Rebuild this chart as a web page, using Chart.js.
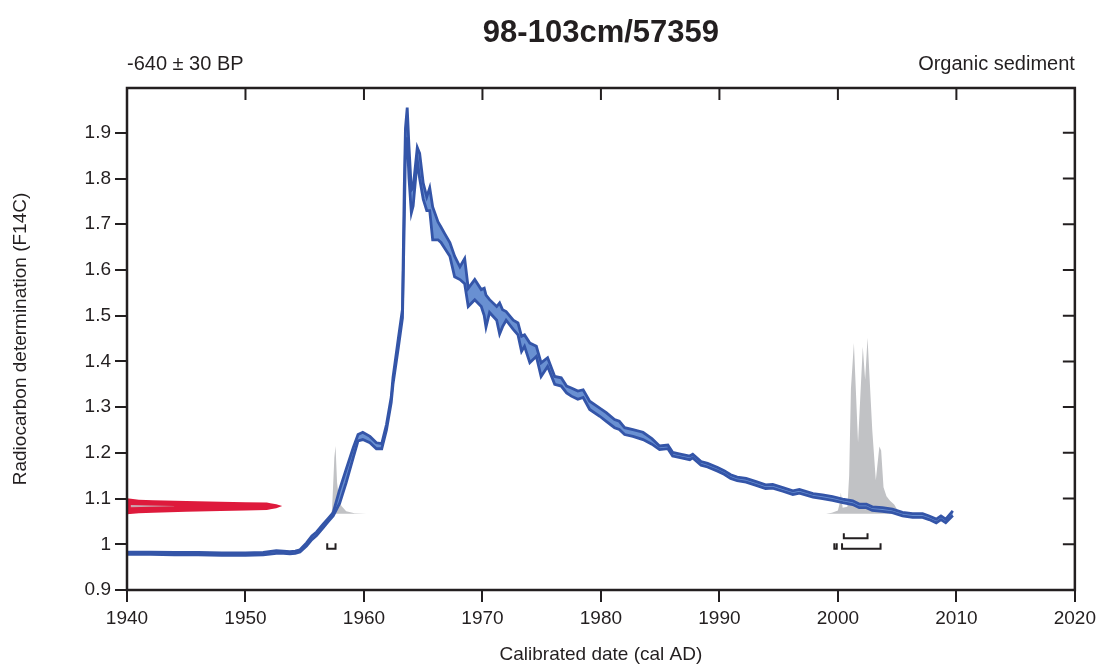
<!DOCTYPE html>
<html lang="en">
<head>
<meta charset="UTF-8">
<title>98-103cm/57359</title>
<script src="https://cdn.jsdelivr.net/npm/chart.js"></script>
<style>
  body { margin: 0; background: #fff; }
  canvas { display: block; }
</style>
</head>
<body>
<canvas id="calChart" width="1101" height="666"></canvas>
<script>
// calibration curve (IntCal bomb section), lower / upper bound in F14C
const calYears = [1940, 1942, 1944, 1946, 1948, 1950, 1951.5, 1952.6, 1953.2, 1953.75, 1954.2, 1954.6,
  1955.15, 1955.6, 1956.0, 1956.55, 1957.0, 1957.4, 1957.95, 1958.5, 1959.1, 1959.5, 1959.9, 1960.5,
  1961.05, 1961.5, 1961.9, 1962.3, 1962.45, 1962.9, 1963.25, 1963.4, 1963.5, 1963.65, 1963.8, 1964.0,
  1964.15, 1964.5, 1964.7, 1965.0, 1965.3, 1965.55, 1965.8, 1966.25, 1966.5, 1966.8, 1967.25, 1967.65,
  1968.1, 1968.5, 1968.8, 1969.35, 1969.9, 1970.15, 1970.3, 1970.6, 1971.2, 1971.45, 1971.7, 1972.0,
  1972.6, 1973.0, 1973.3, 1973.55, 1974.0, 1974.55, 1974.95, 1975.5, 1976.1, 1976.65, 1977.1, 1977.5,
  1978.05, 1978.5, 1979.05, 1979.9, 1980.45, 1981.15, 1981.55, 1982.0, 1982.7, 1983.55, 1984.3, 1984.95,
  1985.65, 1986.05, 1986.6, 1987.5, 1987.75, 1988.45, 1989.0, 1989.85, 1990.4, 1990.95, 1991.5, 1992.25,
  1993.1, 1993.9, 1994.5, 1995.35, 1996.2, 1996.75, 1997.9, 1998.7, 1999.55, 2000.4, 2001.25, 2001.8,
  2002.4, 2002.9, 2003.75, 2004.6, 2005.45, 2006.3, 2007.15, 2007.7, 2008.3, 2008.7, 2009.1, 2009.7];
const calLow = [0.978, 0.978, 0.977, 0.977, 0.976, 0.976, 0.977, 0.980, 0.980, 0.979, 0.980, 0.983,
  0.996, 1.010, 1.019, 1.036, 1.050, 1.062, 1.090, 1.135, 1.190, 1.226, 1.229, 1.222,
  1.209, 1.209, 1.250, 1.310, 1.350, 1.430, 1.495, 1.70, 1.86, 1.89, 1.80, 1.725,
  1.74, 1.84, 1.80, 1.755, 1.73, 1.73, 1.666, 1.666, 1.66, 1.648, 1.63, 1.585,
  1.579, 1.57, 1.52, 1.535, 1.52, 1.50, 1.475, 1.507, 1.49, 1.46, 1.476, 1.49,
  1.47, 1.458, 1.422, 1.433, 1.397, 1.411, 1.367, 1.389, 1.35, 1.346, 1.331, 1.324,
  1.317, 1.321, 1.295, 1.280, 1.269, 1.255, 1.251, 1.240, 1.236, 1.229, 1.219, 1.207,
  1.209, 1.193, 1.190, 1.185, 1.189, 1.173, 1.169, 1.160, 1.153, 1.144, 1.139, 1.136,
  1.129, 1.122, 1.123, 1.116, 1.109, 1.112, 1.103, 1.100, 1.096, 1.091, 1.087, 1.080,
  1.080, 1.074, 1.072, 1.069, 1.062, 1.059, 1.059, 1.054, 1.047, 1.054, 1.047, 1.063];
const calHigh = [0.983, 0.983, 0.982, 0.982, 0.981, 0.981, 0.982, 0.986, 0.985, 0.984, 0.985, 0.988,
  1.003, 1.018, 1.027, 1.044, 1.057, 1.069, 1.120, 1.164, 1.212, 1.240, 1.245, 1.236,
  1.222, 1.220, 1.262, 1.322, 1.365, 1.450, 1.515, 1.78, 1.91, 1.955, 1.87, 1.775,
  1.78, 1.868, 1.855, 1.79, 1.76, 1.78, 1.738, 1.705, 1.694, 1.68, 1.66, 1.63,
  1.607, 1.625, 1.56, 1.579, 1.557, 1.56, 1.545, 1.535, 1.52, 1.528, 1.513, 1.509,
  1.49, 1.484, 1.455, 1.458, 1.44, 1.433, 1.397, 1.408, 1.367, 1.364, 1.346, 1.342,
  1.335, 1.338, 1.313, 1.298, 1.288, 1.273, 1.269, 1.255, 1.251, 1.245, 1.231, 1.215,
  1.217, 1.201, 1.198, 1.193, 1.197, 1.181, 1.177, 1.168, 1.161, 1.152, 1.147, 1.144,
  1.137, 1.130, 1.131, 1.124, 1.117, 1.120, 1.111, 1.108, 1.104, 1.099, 1.095, 1.088,
  1.088, 1.082, 1.080, 1.077, 1.070, 1.067, 1.067, 1.062, 1.055, 1.062, 1.055, 1.073];

// measured value -640 ± 30 BP, drawn along the F14C axis
const measYears = [1940, 1941, 1942.2, 1945, 1947.9, 1950, 1951.8, 1952.1, 1952.6, 1953.1];
const measHigh = [1.1008, 1.0975, 1.0962, 1.0946, 1.0932, 1.0922, 1.0912, 1.0895, 1.0875, 1.0837];
const measLow = [1.0655, 1.0680, 1.0690, 1.0713, 1.0728, 1.0738, 1.0750, 1.0765, 1.0790, 1.0837];
const coreYears = [1940.3, 1942, 1944];
const coreHigh = [1.0858, 1.0848, 1.0836];
const coreLow = [1.0812, 1.0822, 1.0834];

// calibrated probability distributions (plotted height in F14C units above the base)
const probBase = 1.067;
const prob1Years = [1957.2, 1957.3, 1957.4, 1957.5, 1957.6, 1957.73, 1957.9, 1958.1, 1958.5, 1959.2, 1960.2];
const prob1Vals = [1.067, 1.075, 1.13, 1.19, 1.215, 1.135, 1.098, 1.084, 1.072, 1.068, 1.067];
const prob2Years = [1999.0, 1999.5, 2000.0, 2000.15, 2000.25, 2000.4, 2000.8, 2000.95, 2001.1, 2001.35,
  2001.7, 2002.1, 2002.3, 2002.5, 2002.9, 2003.2, 2003.5, 2003.65, 2003.85, 2004.1, 2004.4, 2004.75,
  2004.95, 2005.3];
const prob2Vals = [1.067, 1.069, 1.074, 1.09, 1.113, 1.08, 1.082, 1.15, 1.34, 1.44,
  1.222, 1.432, 1.36, 1.452, 1.25, 1.14, 1.214, 1.205, 1.125, 1.105, 1.095, 1.087,
  1.078, 1.067];

// calibrated ranges
const range68 = [[2000.5, 2002.5]];
const range95 = [[1956.9, 1957.6], [1999.7, 1999.9], [2000.35, 2003.6]];

const xTicks = [1940, 1950, 1960, 1970, 1980, 1990, 2000, 2010, 2020];
const yTicks = [0.9, 1.0, 1.1, 1.2, 1.3, 1.4, 1.5, 1.6, 1.7, 1.8, 1.9];

const ink = '#231f20';
const font = '"Liberation Sans", Arial, sans-serif';

function pts(xs, ys) {
  return xs.map((x, i) => ({ x: x, y: ys[i] }));
}

function bracket(r, top, bottom) {
  return {
    data: [{ x: r[0], y: top }, { x: r[0], y: bottom }, { x: r[1], y: bottom }, { x: r[1], y: top }],
    showLine: true, borderColor: ink, borderWidth: 2, pointRadius: 0, fill: false, order: 0
  };
}

const datasets = [
  { data: pts(prob1Years, prob1Vals), showLine: true, borderWidth: 0, pointRadius: 0,
    backgroundColor: '#c1c2c5', fill: { value: probBase }, order: 3 },
  { data: pts(prob2Years, prob2Vals), showLine: true, borderWidth: 0, pointRadius: 0,
    backgroundColor: '#c1c2c5', fill: { value: probBase }, order: 3 },
  { data: pts(measYears, measLow), showLine: true, borderWidth: 0, pointRadius: 0, fill: false, order: 2 },
  { data: pts(measYears, measHigh), showLine: true, borderWidth: 0, pointRadius: 0,
    backgroundColor: '#de1a3c', fill: '-1', order: 2 },
  { data: pts(coreYears, coreLow), showLine: true, borderWidth: 0, pointRadius: 0, fill: false, order: 1 },
  { data: pts(coreYears, coreHigh), showLine: true, borderWidth: 0, pointRadius: 0,
    backgroundColor: 'rgba(200,190,195,0.85)', fill: '-1', order: 1 },
  { data: pts(calYears, calLow), showLine: true, borderColor: '#3455a8', borderWidth: 2.8,
    pointRadius: 0, fill: false, order: 1 },
  { data: pts(calYears, calHigh), showLine: true, borderColor: '#3455a8', borderWidth: 2.8,
    pointRadius: 0, backgroundColor: '#6990d2', fill: '-1', order: 1 }
];
range68.forEach(r => datasets.push(bracket(r, 1.024, 1.013)));
range95.forEach(r => datasets.push(bracket(r, 1.002, 0.990)));

const framePlugin = {
  id: 'frame',
  afterDraw(chart) {
    const { ctx, chartArea: a, scales } = chart;
    ctx.save();
    ctx.strokeStyle = ink;
    ctx.lineWidth = 2;
    ctx.beginPath();
    xTicks.forEach(v => {
      const px = scales.x.getPixelForValue(v);
      ctx.moveTo(px, a.top); ctx.lineTo(px, a.top + 12);
    });
    yTicks.forEach(v => {
      const py = scales.y.getPixelForValue(v);
      ctx.moveTo(a.right, py); ctx.lineTo(a.right - 12, py);
    });
    ctx.stroke();
    ctx.lineWidth = 2.5;
    ctx.strokeRect(a.left, a.top, a.right - a.left, a.bottom - a.top);

    ctx.fillStyle = ink;
    ctx.textBaseline = 'alphabetic';
    ctx.font = 'bold 31px ' + font;
    ctx.textAlign = 'center';
    ctx.fillText('98-103cm/57359', (a.left + a.right) / 2, 42);
    ctx.font = '20px ' + font;
    ctx.textAlign = 'left';
    ctx.fillText('-640 ± 30 BP', a.left, 70);
    ctx.textAlign = 'right';
    ctx.fillText('Organic sediment', a.right, 70);
    ctx.restore();
  }
};

new Chart(document.getElementById('calChart'), {
  type: 'scatter',
  data: { datasets: datasets },
  plugins: [framePlugin],
  options: {
    responsive: false,
    animation: false,
    devicePixelRatio: 1,
    layout: { padding: { top: 88, right: 25, left: 0, bottom: 0 } },
    plugins: { legend: { display: false }, tooltip: { enabled: false } },
    scales: {
      x: {
        type: 'linear', min: 1940, max: 2020,
        afterBuildTicks: s => { s.ticks = xTicks.map(v => ({ value: v })); },
        afterFit: s => { s.height = 76; },
        ticks: { color: ink, font: { family: font, size: 19 }, padding: 5, callback: v => String(v) },
        grid: { drawOnChartArea: false, drawTicks: true, tickLength: 12, color: ink, lineWidth: 2 },
        border: { display: false },
        title: { display: true, text: 'Calibrated date (cal AD)', color: ink,
          font: { family: font, size: 19 }, padding: { top: 0, bottom: 0 } }
      },
      y: {
        type: 'linear', min: 0.9, max: 1.998,
        afterBuildTicks: s => { s.ticks = yTicks.map(v => ({ value: v })); },
        afterFit: s => { s.width = 127; },
        ticks: { color: ink, font: { family: font, size: 19 }, padding: 4,
          callback: v => String(Math.round(v * 10) / 10) },
        grid: { drawOnChartArea: false, drawTicks: true, tickLength: 12, color: ink, lineWidth: 2 },
        border: { display: false },
        title: { display: true, text: 'Radiocarbon determination (F14C)', color: ink,
          font: { family: font, size: 19 }, padding: { top: 9, bottom: 0 } }
      }
    }
  }
});
</script>
</body>
</html>
